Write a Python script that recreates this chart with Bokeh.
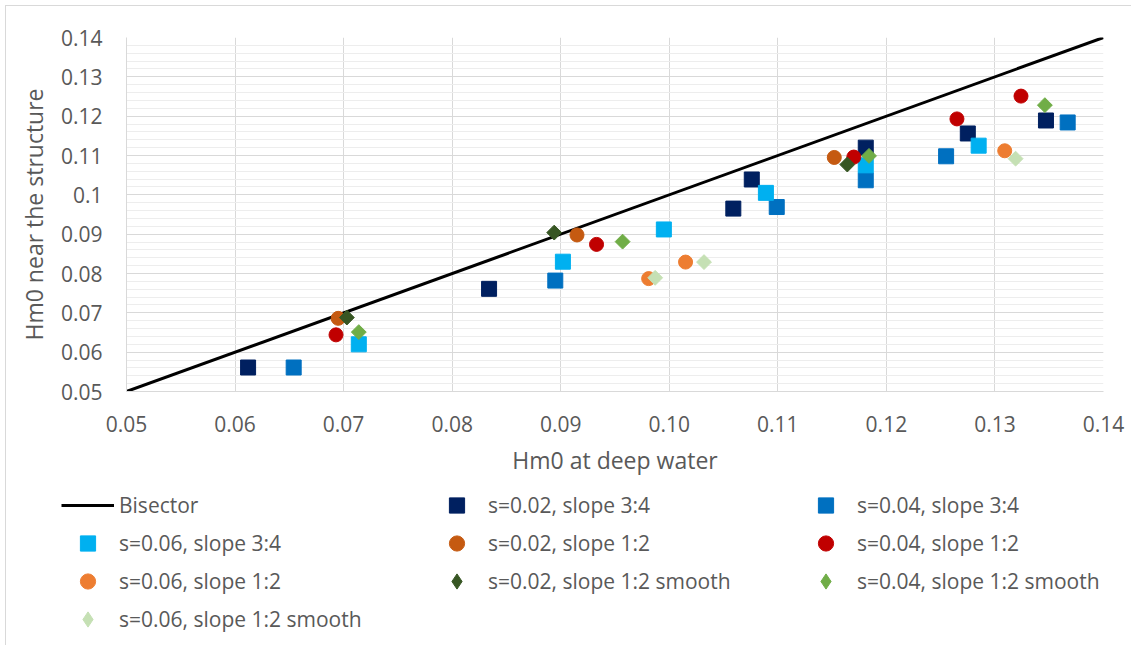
import math
from bokeh.plotting import figure
from bokeh.models import Range1d, FixedTicker, Legend, LegendItem
from bokeh.embed import file_html
from bokeh.resources import INLINE

# ---------------- data ----------------
bisector_x = [0.05, 0.14]
bisector_y = [0.05, 0.14]

s02_34_x = [0.0612, 0.0834, 0.1059, 0.1076, 0.1181, 0.1275, 0.1347]
s02_34_y = [0.0561, 0.0761, 0.0965, 0.1039, 0.1120, 0.1156, 0.1189]
s04_34_x = [0.0654, 0.0895, 0.1099, 0.1181, 0.1255, 0.1367]
s04_34_y = [0.0561, 0.0782, 0.0969, 0.1037, 0.1098, 0.1184]
s06_34_x = [0.0714, 0.0902, 0.0995, 0.1089, 0.1181, 0.1285]
s06_34_y = [0.0620, 0.0830, 0.0912, 0.1005, 0.1075, 0.1125]
s02_12_x = [0.0695, 0.0915, 0.1152]
s02_12_y = [0.0686, 0.0898, 0.1095]
s04_12_x = [0.0693, 0.0933, 0.1170, 0.1265, 0.1324]
s04_12_y = [0.0644, 0.0874, 0.1096, 0.1193, 0.1251]
s06_12_x = [0.0981, 0.1015, 0.1309]
s06_12_y = [0.0787, 0.0829, 0.1112]
s02_sm_x = [0.0703, 0.0894, 0.1164]
s02_sm_y = [0.0688, 0.0904, 0.1077]
s04_sm_x = [0.0714, 0.0957, 0.1184, 0.1346]
s04_sm_y = [0.0651, 0.0881, 0.1099, 0.1228]
s06_sm_x = [0.0987, 0.1032, 0.1319]
s06_sm_y = [0.0789, 0.0829, 0.1092]

x_ticks = [0.05, 0.06, 0.07, 0.08, 0.09, 0.10, 0.11, 0.12, 0.13, 0.14]
x_tick_labels = ["0.05", "0.06", "0.07", "0.08", "0.09", "0.10", "0.11", "0.12", "0.13", "0.14"]
y_ticks = [0.05, 0.06, 0.07, 0.08, 0.09, 0.10, 0.11, 0.12, 0.13, 0.14]
y_tick_labels = ["0.05", "0.06", "0.07", "0.08", "0.09", "0.1", "0.11", "0.12", "0.13", "0.14"]

x_title = "Hm0 at deep water"
y_title = "Hm0 near the structure"
bisector_label = "Bisector"

series = [
    ("s=0.02, slope 3:4", s02_34_x, s02_34_y, "square", "#002060"),
    ("s=0.04, slope 3:4", s04_34_x, s04_34_y, "square", "#0070C0"),
    ("s=0.06, slope 3:4", s06_34_x, s06_34_y, "square", "#00B0F0"),
    ("s=0.02, slope 1:2", s02_12_x, s02_12_y, "circle", "#C55A11"),
    ("s=0.04, slope 1:2", s04_12_x, s04_12_y, "circle", "#C00000"),
    ("s=0.06, slope 1:2", s06_12_x, s06_12_y, "circle", "#ED7D31"),
    ("s=0.02, slope 1:2 smooth", s02_sm_x, s02_sm_y, "diamond", "#375623"),
    ("s=0.04, slope 1:2 smooth", s04_sm_x, s04_sm_y, "diamond", "#70AD47"),
    ("s=0.06, slope 1:2 smooth", s06_sm_x, s06_sm_y, "diamond", "#C5E0B4"),
]

FONT = "Open Sans"
TXT = "#595959"
GRID = "#D9D9D9"
W = 1126

# ---------------- main chart ----------------
p = figure(
    width=W, height=480,
    x_range=Range1d(0.05, 0.14), y_range=Range1d(0.05, 0.14),
    output_backend="svg", toolbar_location=None,
    min_border_left=120, min_border_right=29, min_border_top=31, min_border_bottom=95,
)
p.outline_line_color = None
p.background_fill_color = "white"
p.border_fill_color = "white"
p.styles = {
    "margin-left": "5px", "margin-top": "5px",
    "border-left": "1px solid #D9D9D9", "border-top": "1px solid #D9D9D9",
}

xt = FixedTicker(ticks=x_ticks, minor_ticks=[])
yminor = [round(0.05 + 0.002 * i, 4) for i in range(46)]
yt = FixedTicker(ticks=y_ticks, minor_ticks=yminor)
p.xaxis.ticker = xt
p.yaxis.ticker = yt
p.xgrid.ticker = xt
p.ygrid.ticker = yt
p.xaxis.major_label_overrides = {t: l for t, l in zip(x_ticks, x_tick_labels)}
p.yaxis.major_label_overrides = {t: l for t, l in zip(y_ticks, y_tick_labels)}

for ax in (p.xaxis[0], p.yaxis[0]):
    ax.axis_line_color = GRID
    ax.major_tick_line_color = None
    ax.minor_tick_line_color = None
    ax.major_tick_out = 0
    ax.major_tick_in = 0
    ax.minor_tick_out = 0
    ax.minor_tick_in = 0
    ax.major_label_text_font = FONT
    ax.major_label_text_font_size = "21px"
    ax.major_label_text_color = TXT
    ax.axis_label_text_font = FONT
    ax.axis_label_text_font_size = "23px"
    ax.axis_label_text_color = TXT
    ax.axis_label_text_font_style = "normal"

p.xaxis.axis_label = x_title
p.yaxis.axis_label = y_title
p.xaxis.major_label_standoff = 24
p.xaxis.axis_label_standoff = 9
p.yaxis.major_label_standoff = 24
p.yaxis.axis_label_standoff = 8

p.xgrid.grid_line_color = GRID
p.ygrid.grid_line_color = GRID
p.ygrid.minor_grid_line_color = "#EDEDED"

p.line(bisector_x, bisector_y, line_color="black", line_width=3)
for name, xs, ys, mk, col in series:
    if mk == "square":
        p.scatter(xs, ys, marker="square", size=15, fill_color=col, line_color=col, line_width=1)
    elif mk == "circle":
        p.scatter(xs, ys, marker="circle", size=14, fill_color=col, line_color=col, line_width=1)
    else:
        p.scatter(xs, ys, marker="square", size=10.5, angle=math.pi / 4,
                  fill_color=col, line_color=col, line_width=1)

# ---------------- legend strip (same series, drawn out of view) ----------------
lg = figure(
    width=W, height=160,
    x_range=Range1d(0.05, 0.14), y_range=Range1d(1.0, 2.0),
    output_backend="svg", toolbar_location=None,
    x_axis_type=None, y_axis_type=None,
    min_border_left=0, min_border_right=0, min_border_top=0, min_border_bottom=0,
)
lg.outline_line_color = None
lg.xgrid.visible = False
lg.ygrid.visible = False
lg.styles = {"margin-left": "5px", "border-left": "1px solid #D9D9D9"}

items = []
rb = lg.line(bisector_x, bisector_y, line_color="black", line_width=3)
items.append(LegendItem(label=bisector_label, renderers=[rb]))
for name, xs, ys, mk, col in series:
    r = lg.scatter(xs, ys, marker=mk, fill_color=col, line_color=col, line_width=1)
    items.append(LegendItem(label=name, renderers=[r]))

legend = Legend(
    items=items, orientation="horizontal", ncols=3,
    location=(55, 7),
    glyph_width=53, glyph_height=38, label_height=38, label_width=311,
    spacing=0, label_standoff=5, padding=0, margin=0,
    label_text_font=FONT, label_text_font_size="21px", label_text_color=TXT,
    border_line_color=None, background_fill_alpha=0,
)
lg.add_layout(legend, "center")

open("out.html", "w").write(file_html([p, lg], INLINE))
